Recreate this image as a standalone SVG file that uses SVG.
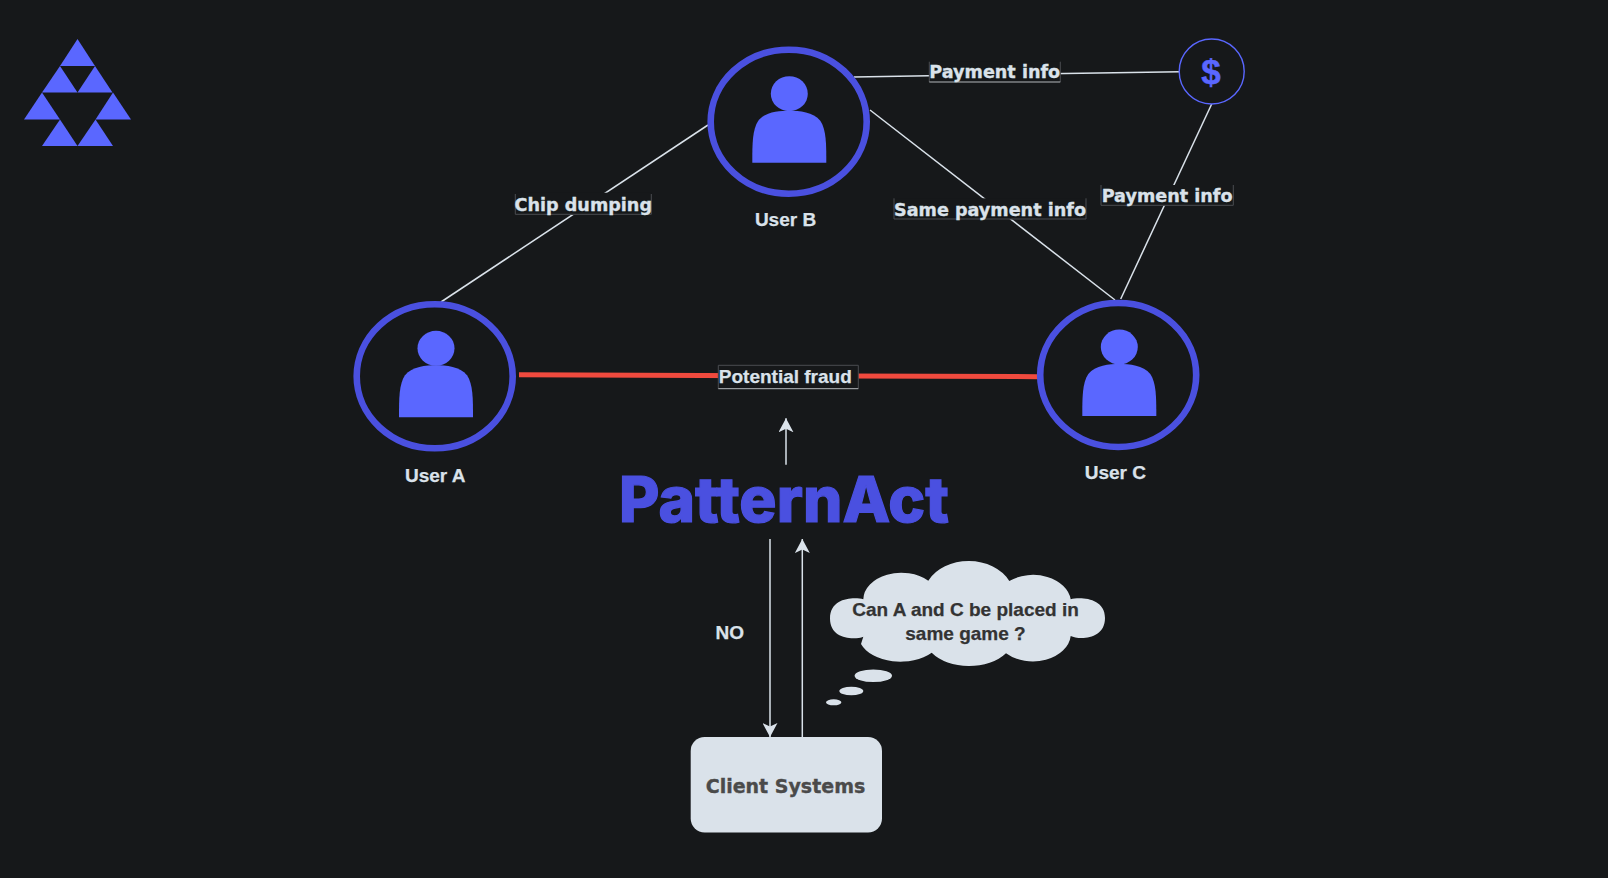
<svg xmlns="http://www.w3.org/2000/svg" width="1608" height="878" viewBox="0 0 1608 878">
<defs>
<style>
.ring{fill:none;stroke:#4a50e0;stroke-width:6.6}
.p{fill:#5a67ff}
.l{stroke:#dae2ea;stroke-width:1.5;fill:none}
.t{font-family:"Liberation Sans",Arial,sans-serif;font-weight:700;fill:#dae2ea;stroke:#dae2ea;stroke-width:.25;text-anchor:middle}
.lb{font-family:"DejaVu Sans",sans-serif;font-weight:700;font-size:17.6px;fill:#dae2ea;stroke:#dae2ea;stroke-width:.35;text-anchor:middle}
.bg{fill:#16181a}
.e{stroke:#4a4d51;stroke-width:1;fill:none}
.eb{stroke:#b4b8bc;stroke-width:1;fill:none}
.c{fill:#dae2ea}
</style>
<marker id="a" markerWidth="15" markerHeight="15" refX="14" refY="7.5" orient="auto" markerUnits="userSpaceOnUse"><path d="M0 0L14 7.5L0 15L3.500 7.500Z" fill="#dae2ea"/></marker>
<g id="person"><ellipse cx="0" cy="-28" rx="18.500" ry="17.500" class="p"/><path class="p" d="M-37 41C-37 22-37 8-31-1C-24-10-10-11 0-11S24-10 31-1C37 8 37 22 37 41Z"/></g>
</defs>
<rect width="1608" height="878" fill="#16181a"/>
<g id="logo" fill="#5a67ff">
<path d="M77.500 39L95 66H60Z"/><path d="M60 66L77.500 92.500H42Z"/><path d="M95 66L112.500 92.500H77.500Z"/><path d="M42 92.500L60 119.500H24Z"/><path d="M113 92.500L131 119.500H95.500Z"/><path d="M60 119.500L77.500 146H42Z"/><path d="M95.500 119.500L113 146H77.500Z"/>
</g>
<g id="connectors">
<path class="l" d="M441 302L708 125"/>
<path class="l" d="M854 77L1180 71.700"/>
<path class="l" d="M870 110L1115 300"/>
<path class="l" d="M1211.700 104L1120.700 299"/>
<path d="M519 374.700L1038 376.700" stroke="#f04a3e" stroke-width="5" fill="none"/>
<path class="l" d="M786 464.700V418.300" marker-end="url(#a)"/>
<path class="l" d="M770 539V737" marker-end="url(#a)"/>
<path class="l" d="M802.300 737V539" marker-end="url(#a)"/>
</g>
<g id="label-chip"><rect class="bg" x="515.300" y="192.700" width="136" height="22.300"/><path class="e" d="M515.300 194V214.300H651.300V194"/><text class="lb" x="583.300" y="210.700">Chip dumping</text></g>
<g id="label-pay1"><rect class="bg" x="929.300" y="61.700" width="131" height="20.600"/><path class="e" d="M929.300 61.700V82"/><path class="e" d="M1060.300 61.700V82"/><path class="eb" d="M929.300 82H1060.300"/><text class="lb" x="994.800" y="78">Payment info</text></g>
<g id="label-same"><rect class="bg" x="894" y="198.300" width="192" height="21"/><path class="e" d="M894 198.300V219H1086V198.300"/><text class="lb" x="990" y="216">Same payment info</text></g>
<g id="label-pay2"><rect class="bg" x="1101" y="185" width="132.300" height="20.500"/><path class="e" d="M1101 185V205.300H1233.300V185"/><text class="lb" x="1167.100" y="201.800">Payment info</text></g>
<g id="label-fraud"><rect class="bg" x="718.300" y="365.300" width="140" height="23.400"/><path class="e" d="M718.300 388.700V365.300H858.300V388.700"/><path class="eb" d="M718.300 388.700H858.300"/><text class="t" x="785.300" y="383.300" font-size="19">Potential fraud</text></g>
<g id="user-a"><ellipse class="ring" cx="434.700" cy="376.300" rx="78" ry="72"/><use href="#person" x="436" y="376.300"/><text class="t" x="435.200" y="482.200" font-size="19">User A</text></g>
<g id="user-b"><ellipse class="ring" cx="788.700" cy="121.700" rx="78" ry="72"/><use href="#person" x="789.300" y="121.700"/><text class="t" x="785.500" y="226" font-size="19">User B</text></g>
<g id="user-c"><ellipse class="ring" cx="1118.200" cy="375" rx="78" ry="72"/><use href="#person" x="1119.300" y="375"/><text class="t" x="1115.300" y="479.300" font-size="19">User C</text></g>
<g id="dollar"><circle cx="1211.700" cy="71.500" r="32.500" fill="#16181a" stroke="#5a67ff" stroke-width="1.400"/><text x="1211" y="84" font-family="Liberation Sans,sans-serif" font-weight="700" font-size="35" fill="#5a67ff" stroke="#5a67ff" stroke-width=".5" text-anchor="middle">$</text></g>
<g id="patternact"><text x="619" y="521.700" font-family="Inter,sans-serif" font-weight="800" font-size="63" textLength="330" lengthAdjust="spacingAndGlyphs" fill="#4a50e0" stroke="#4a50e0" stroke-width="1.200">PatternAct</text></g>
<g id="no"><text class="t" x="729.800" y="639.300" font-size="19">NO</text></g>
<g id="cloud"><path class="c" d="M863.300 599.300A38 27 0 0 1 928.300 580.700A45 35 0 0 1 1009.300 581A38 28 0 0 1 1070.700 599.300C1079 597 1105 597 1105 618C1105 640 1079 640 1070.700 636A38 28 0 0 1 1006 653.300A45 30 0 0 1 931.700 652.700A42 27 0 0 1 861 644L863.300 636.700C855 640 830 640 830 618.500C830 597 855 597 863.300 599.300Z"/>
<ellipse class="c" cx="873.300" cy="675.700" rx="18.700" ry="6.300"/><ellipse class="c" cx="851.300" cy="691" rx="12" ry="4.300"/><ellipse class="c" cx="833.700" cy="702.300" rx="7.700" ry="3"/>
<text class="t" font-size="19" style="fill:#333;stroke:#333"><tspan x="965.500" y="616">Can A and C be placed in</tspan><tspan x="965.500" y="639.700">same game ?</tspan></text></g>
<g id="client"><rect x="690.700" y="737" width="191.300" height="95.500" rx="14" fill="#dae2ea"/><text x="785.500" y="792.600" font-family="DejaVu Sans,sans-serif" font-weight="700" font-size="19" fill="#4a4a4a" stroke="#4a4a4a" stroke-width=".35" text-anchor="middle">Client Systems</text></g>
</svg>
